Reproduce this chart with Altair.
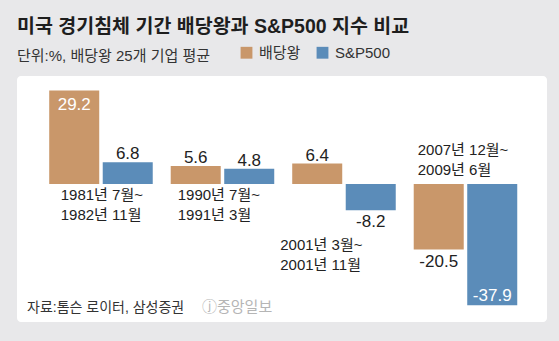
import altair as alt
import pandas as pd

# Recession periods (two-line labels) and the two series compared
periods = ["1981년 7월~\n1982년 11월", "1990년 7월~\n1991년 3월",
           "2001년 3월~\n2001년 11월", "2007년 12월~\n2009년 6월"]
series = ["배당왕", "S&P500"]
dividend_kings = [29.2, 5.6, 6.4, -20.5]
sp500 = [6.8, 4.8, -8.2, -37.9]

title_text = "미국 경기침체 기간 배당왕과 S&P500 지수 비교"
subtitle_text = "단위:%, 배당왕 25개 기업 평균"
source_text = "자료:톰슨 로이터, 삼성증권"
logo_text = "ⓙ중앙일보"

ORANGE = "#c9976a"
BLUE = "#5b8cb9"
FONT = "Liberation Sans, Noto Sans CJK KR, sans-serif"

rows = []
for i, p in enumerate(periods):
    for s, vals in zip(series, [dividend_kings, sp500]):
        v = vals[i]
        rows.append({"period": p, "series": s, "value": v, "label": f"{v:.1f}"})
df = pd.DataFrame(rows)

x_scale = alt.Scale(paddingInner=0, paddingOuter=0.181, align=0.528)
x_enc = alt.X("period:N", sort=periods, axis=None, scale=x_scale)
xo_enc = alt.XOffset("series:N", sort=series,
                     scale=alt.Scale(paddingInner=0.0654, paddingOuter=0.168))
y_enc = alt.Y("value:Q", axis=None,
              scale=alt.Scale(domain=[-43.125, 33.75], nice=False, zero=False))

base = alt.Chart(df).encode(x=x_enc, xOffset=xo_enc, y=y_enc)

bars = base.mark_bar().encode(
    color=alt.Color(
        "series:N", sort=series,
        scale=alt.Scale(domain=series, range=[ORANGE, BLUE]),
        legend=alt.Legend(
            orient="none", legendX=222, legendY=-31, direction="horizontal",
            title=None, symbolType="square", symbolSize=140,
            symbolStrokeWidth=0, symbolOpacity=1, labelFontSize=15,
            labelFont=FONT, labelColor="#333333", columnPadding=14,
            labelOffset=5, padding=0,
        ),
    )
)

# Value labels: outside the bar for short bars, inside (white) for long ones
def value_text(cond, baseline, dy, color):
    return base.transform_filter(cond).mark_text(
        baseline=baseline, dy=dy, fontSize=17, color=color, font=FONT
    ).encode(text="label:N")

pos_out = value_text("datum.value >= 0 && datum.value < 25", "alphabetic", -3, "#222222")
pos_in = value_text("datum.value >= 25", "top", 6, "white")
neg_out = value_text("datum.value < 0 && datum.value > -25", "top", 4, "#222222")
neg_in = value_text("datum.value <= -25", "alphabetic", -4, "white")

# Period labels, each placed next to its own pair of bars
label_df = pd.DataFrame({"period": periods})
label_layout = [(20.5, 112), (16, 112), (-3, 162), (13, 67)]
period_labels = []
for p, (dx, ypx) in zip(periods, label_layout):
    period_labels.append(
        alt.Chart(label_df).transform_filter(alt.datum.period == p).mark_text(
            align="left", baseline="top", dx=dx, fontSize=15, lineHeight=20,
            lineBreak="\n", color="#222222", font=FONT
        ).encode(x=alt.X("period:N", sort=periods, bandPosition=0, axis=None,
                         scale=x_scale),
                 y=alt.value(ypx), text="period:N")
    )

one = pd.DataFrame({"k": [0]})

def free_text(txt, xpx, ypx, size, color, weight="normal"):
    return alt.Chart(one).mark_text(
        align="left", baseline="alphabetic", fontSize=size, color=color,
        fontWeight=weight, font=FONT
    ).encode(x=alt.value(xpx), y=alt.value(ypx), text=alt.value(txt))

title = free_text(title_text, 0, -43, 19.5, "#1e1e1e", "bold")
subtitle = free_text(subtitle_text, 0, -15, 15, "#333333")
source = free_text(source_text, 10, 236, 14, "#333333")
logo = free_text(logo_text, 185, 236, 15, "#b5b5b5")

chart = alt.layer(
    bars, pos_out, pos_in, neg_out, neg_in, *period_labels,
    title, subtitle, source, logo,
).properties(
    width=530, height=246,
    autosize=alt.AutoSizeParams(type="none"),
    padding={"left": 17, "top": 76, "right": 12, "bottom": 19},
    background="#e8e8ea",
).configure(font=FONT).configure_view(
    fill="white", stroke=None, cornerRadius=4
)

chart.save("out.html", embed_options={"renderer": "svg", "actions": False})
